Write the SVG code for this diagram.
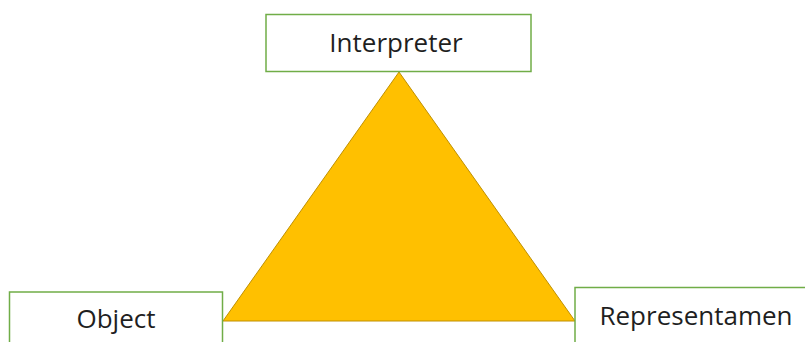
<svg xmlns="http://www.w3.org/2000/svg" width="805" height="342" viewBox="0 0 805 342">
<style>
.box{fill:#fff;stroke:#70AD47;stroke-width:1.5}
.lbl{font-family:"Open Sans","Noto Sans","DejaVu Sans",sans-serif;font-size:26px;fill:#1f1f1f;text-anchor:middle}
</style>
<rect width="805" height="342" fill="#fff"/>
<g id="connectors">
<polygon points="399,72 223,321 575,321" fill="#FFC000" stroke="#BF9000" stroke-width="1"/>
</g>
<g id="interpreter">
<rect class="box" x="266" y="14.5" width="265" height="57"/>
<text class="lbl" x="396" y="52">Interpreter</text>
</g>
<g id="object">
<rect class="box" x="9.5" y="292" width="213" height="60"/>
<text class="lbl" x="116" y="328">Object</text>
</g>
<g id="representamen">
<rect class="box" x="575" y="287.5" width="240" height="60"/>
<text class="lbl" x="696" y="325">Representamen</text>
</g>
</svg>
